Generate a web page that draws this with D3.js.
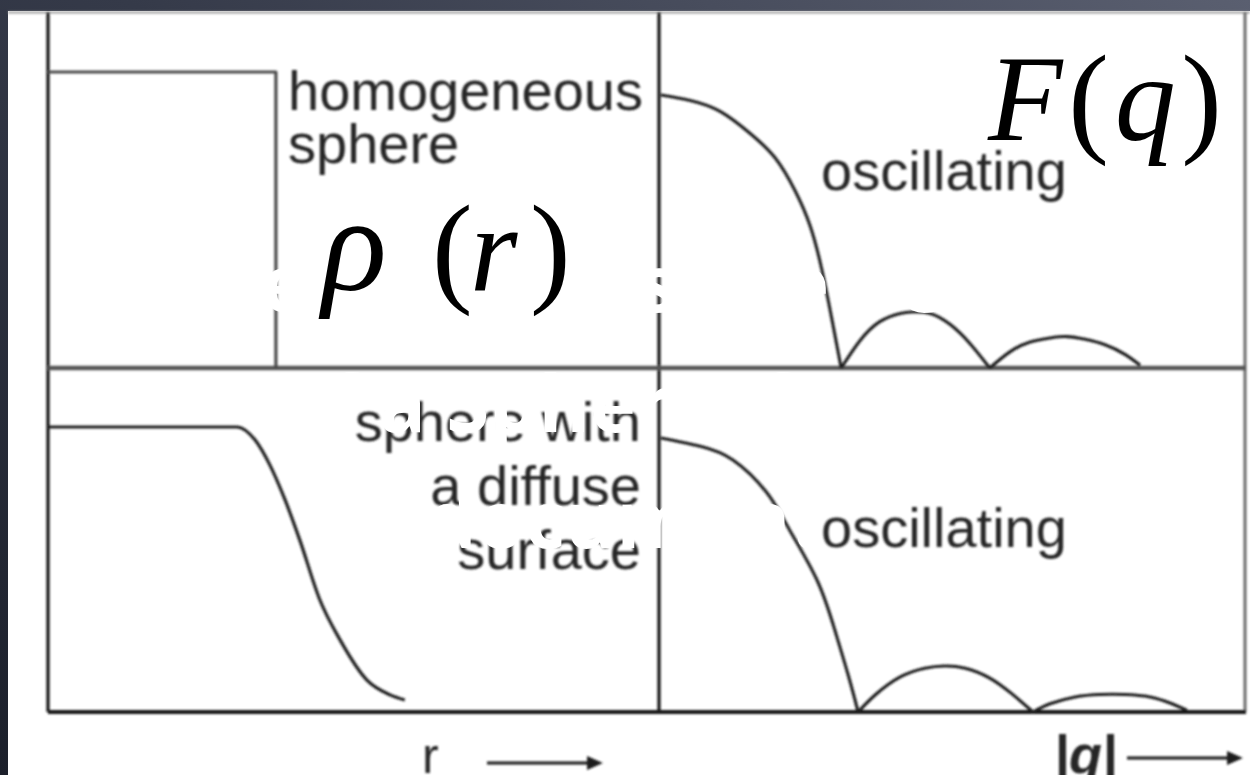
<!DOCTYPE html>
<html>
<head>
<meta charset="utf-8">
<script src="https://cdn.jsdelivr.net/npm/d3@7"></script>
<style>
  html, body { margin: 0; padding: 0; background: #262a36; overflow: hidden; }
  svg { display: block; }
</style>
</head>
<body>
<svg id="chart" width="1250" height="775"></svg>
<script>
// ---- Radial density profiles rho(r); r in panel units (0-10), rho normalised to the plateau ----
const rhoHomR  = [0, 3.73, 3.73];
const rhoHomV  = [1, 1, 0];
const rhoDiffR = [0, 3.09, 3.39, 3.63, 3.88, 4.12, 4.45, 4.78, 5.22, 5.60, 5.84];
const rhoDiffV = [1, 1, 0.954, 0.867, 0.744, 0.604, 0.393, 0.253, 0.112, 0.06, 0.042];

// ---- |F(q)| lobes; q in panel units (0-10), F normalised to F(0) ----
const fHomQ = [
  [0, 0.50, 1.01, 1.52, 1.95, 2.29, 2.55, 2.75, 2.92, 3.08],
  [3.08, 3.40, 3.74, 4.09, 4.31, 4.60, 4.94, 5.28, 5.62],
  [5.62, 5.97, 6.31, 6.65, 6.94, 7.25, 7.59, 7.93, 8.19]
];
const fHomV = [
  [1.00, 0.98, 0.94, 0.86, 0.77, 0.65, 0.52, 0.36, 0.18, 0],
  [0, 0.10, 0.17, 0.20, 0.205, 0.20, 0.16, 0.09, 0],
  [0, 0.06, 0.095, 0.11, 0.115, 0.105, 0.085, 0.05, 0.01]
];
const fDiffQ = [
  [0, 0.67, 1.23, 1.81, 2.21, 2.67, 2.97, 3.20, 3.37],
  [3.37, 3.66, 4.09, 4.51, 4.85, 5.20, 5.62, 6.00, 6.36],
  [6.36, 6.65, 7.08, 7.50, 7.93, 8.36, 8.70, 8.99]
];
const fDiffV = [
  [1.00, 0.97, 0.92, 0.80, 0.66, 0.48, 0.30, 0.135, 0],
  [0, 0.062, 0.128, 0.16, 0.168, 0.16, 0.124, 0.066, 0],
  [0, 0.03, 0.055, 0.064, 0.064, 0.055, 0.033, 0.007]
];

// ---- Text ----
const homLabel   = ["homogeneous", "sphere"];
const diffLabel  = ["sphere with", "a diffuse", "surface"];
const fLabel     = "oscillating";
const rAxisLabel = "r";
const qAxisLabel = "|q|";
const captionLines = ["The", "is the density", "of a Sphere, form", "a document"];

const svg = d3.select("#chart");
const defs = svg.append("defs");

// slide background
const bg = defs.append("linearGradient").attr("id", "slideBg")
  .attr("x1", "0").attr("y1", "1").attr("x2", "1").attr("y2", "0");
bg.append("stop").attr("offset", "0").attr("stop-color", "#1c202b");
bg.append("stop").attr("offset", "0.55").attr("stop-color", "#353a49");
bg.append("stop").attr("offset", "1").attr("stop-color", "#5a5f70");
svg.append("rect").attr("width", 1250).attr("height", 775).attr("fill", "url(#slideBg)");

// soft look of the scanned figure
defs.append("filter").attr("id", "soft")
  .attr("x", "-5%").attr("y", "-5%").attr("width", "110%").attr("height", "110%")
  .append("feGaussianBlur").attr("stdDeviation", 0.9);

// figure card
svg.append("rect").attr("x", 8).attr("y", 11).attr("width", 1242).attr("height", 764).attr("fill", "#ffffff");

// ---- Scales ----
const rX  = d3.scaleLinear().domain([0, 10]).range([48, 659]);
const qX  = d3.scaleLinear().domain([0, 10]).range([661, 1246]);
const rhoTopY = d3.scaleLinear().domain([0, 1]).range([368, 72]);
const fTopY   = d3.scaleLinear().domain([0, 1]).range([368, 95]);
const rhoBotY = d3.scaleLinear().domain([0, 1]).range([712, 427]);
const fBotY   = d3.scaleLinear().domain([0, 1]).range([712, 438]);

const fig = svg.append("g").attr("filter", "url(#soft)");

// top border of the figure
fig.append("line").attr("x1", 8).attr("x2", 1250).attr("y1", 12.5).attr("y2", 12.5)
  .attr("stroke", "#9a9a9a").attr("stroke-width", 2);

// ---- Panel frame ----
const frame = fig.append("g").attr("fill", "none");
frame.append("line").attr("x1", rX(0)).attr("x2", rX(0)).attr("y1", 12).attr("y2", rhoBotY(0))
  .attr("stroke", "#151515").attr("stroke-width", 3.2);
frame.append("line").attr("x1", rX(10)).attr("x2", rX(10)).attr("y1", 12).attr("y2", rhoBotY(0))
  .attr("stroke", "#151515").attr("stroke-width", 3.2);
frame.append("line").attr("x1", qX(10) - 1).attr("x2", qX(10) - 1).attr("y1", 12).attr("y2", fBotY(0))
  .attr("stroke", "#6a6a6a").attr("stroke-width", 3);
frame.append("line").attr("x1", rX(0)).attr("x2", qX(10)).attr("y1", rhoTopY(0)).attr("y2", rhoTopY(0))
  .attr("stroke", "#555").attr("stroke-width", 4.5);
frame.append("line").attr("x1", rX(0)).attr("x2", qX(10)).attr("y1", rhoBotY(0)).attr("y2", rhoBotY(0))
  .attr("stroke", "#151515").attr("stroke-width", 4);

// ---- Curves ----
const rhoTopLine = d3.line().x(d => rX(d[0])).y(d => rhoTopY(d[1])).curve(d3.curveLinear);
const rhoBotLine = d3.line().x(d => rX(d[0])).y(d => rhoBotY(d[1])).curve(d3.curveMonotoneX);
const fTopLine   = d3.line().x(d => qX(d[0])).y(d => fTopY(d[1])).curve(d3.curveNatural);
const fBotLine   = d3.line().x(d => qX(d[0])).y(d => fBotY(d[1])).curve(d3.curveNatural);

const curves = fig.append("g").attr("fill", "none").attr("stroke-linejoin", "round");

curves.append("path").datum(d3.zip(rhoHomR, rhoHomV))
  .attr("d", rhoTopLine).attr("stroke", "#4a4a4a").attr("stroke-width", 3.2);
curves.append("path").datum(d3.zip(rhoDiffR, rhoDiffV))
  .attr("d", rhoBotLine).attr("stroke", "#1e1e1e").attr("stroke-width", 3.2);

fHomQ.forEach((qs, i) => {
  curves.append("path").datum(d3.zip(qs, fHomV[i]))
    .attr("d", fTopLine).attr("stroke", "#1e1e1e").attr("stroke-width", 3.1);
});
fDiffQ.forEach((qs, i) => {
  curves.append("path").datum(d3.zip(qs, fDiffV[i]))
    .attr("d", fBotLine).attr("stroke", "#1e1e1e").attr("stroke-width", 3.1);
});

// ---- Panel labels ----
const labels = fig.append("g")
  .attr("font-family", "'Liberation Sans', Arial, sans-serif")
  .attr("font-size", 56).attr("fill", "#262626");

labels.selectAll("text.hom").data(homLabel).join("text")
  .attr("class", "hom").attr("x", 288).attr("y", (d, i) => 110 + i * 53).text(d => d);

labels.selectAll("text.diff").data(diffLabel).join("text")
  .attr("class", "diff").attr("text-anchor", "end").attr("x", 641)
  .attr("y", (d, i) => 441 + i * 64).text(d => d);

labels.append("text").attr("x", 821).attr("y", 190).text(fLabel);
labels.append("text").attr("x", 821).attr("y", 547).text(fLabel);

// axis captions with arrows
labels.append("text").attr("x", 422).attr("y", 773).attr("font-size", 50).text(rAxisLabel);
labels.append("text").attr("x", 1054).attr("y", 773).attr("font-style", "italic")
  .attr("font-weight", "bold").attr("font-size", 54).text(qAxisLabel);

function arrow(x0, x1, y) {
  fig.append("line").attr("x1", x0).attr("x2", x1 - 12).attr("y1", y).attr("y2", y)
    .attr("stroke", "#1a1a1a").attr("stroke-width", 3);
  fig.append("path")
    .attr("d", `M${x1},${y} L${x1 - 16},${y - 7} L${x1 - 16},${y + 7} Z`)
    .attr("fill", "#1a1a1a");
}
arrow(487, 603, 763);
arrow(1127, 1243, 758);

// ---- Math symbols ----
const math = svg.append("g")
  .attr("font-family", "'Liberation Serif', 'DejaVu Serif', serif")
  .attr("fill", "#000");

const fq = math.append("text").attr("x", 988).attr("y", 140).attr("font-size", 122)
  .attr("textLength", 234).attr("lengthAdjust", "spacing");
fq.append("tspan").attr("font-style", "italic").text("F");
fq.append("tspan").text("(");
fq.append("tspan").attr("font-style", "italic").text("q");
fq.append("tspan").text(")");

const rr = math.append("text").attr("y", 290).attr("font-size", 122);
rr.append("tspan").attr("x", 322).attr("font-style", "italic").attr("font-size", 135).text("ρ");
rr.append("tspan").attr("x", 432).text("(");
rr.append("tspan").attr("x", 470).attr("font-style", "italic").text("r");
rr.append("tspan").attr("x", 530).text(")");

// ---- Slide caption (white) ----
const cap = svg.append("g")
  .attr("font-family", "'Open Sans', sans-serif").attr("font-weight", "bold")
  .attr("font-size", 78).attr("fill", "#ffffff");
cap.append("text").attr("x", 165).attr("y", 312).text(captionLines[0]);
cap.append("text").attr("x", 615).attr("y", 312).text(captionLines[1]);
cap.append("text").attr("x", 280).attr("y", 432).text(captionLines[2]);
cap.append("text").attr("x", 360).attr("y", 548).text(captionLines[3]);
</script>
</body>
</html>
